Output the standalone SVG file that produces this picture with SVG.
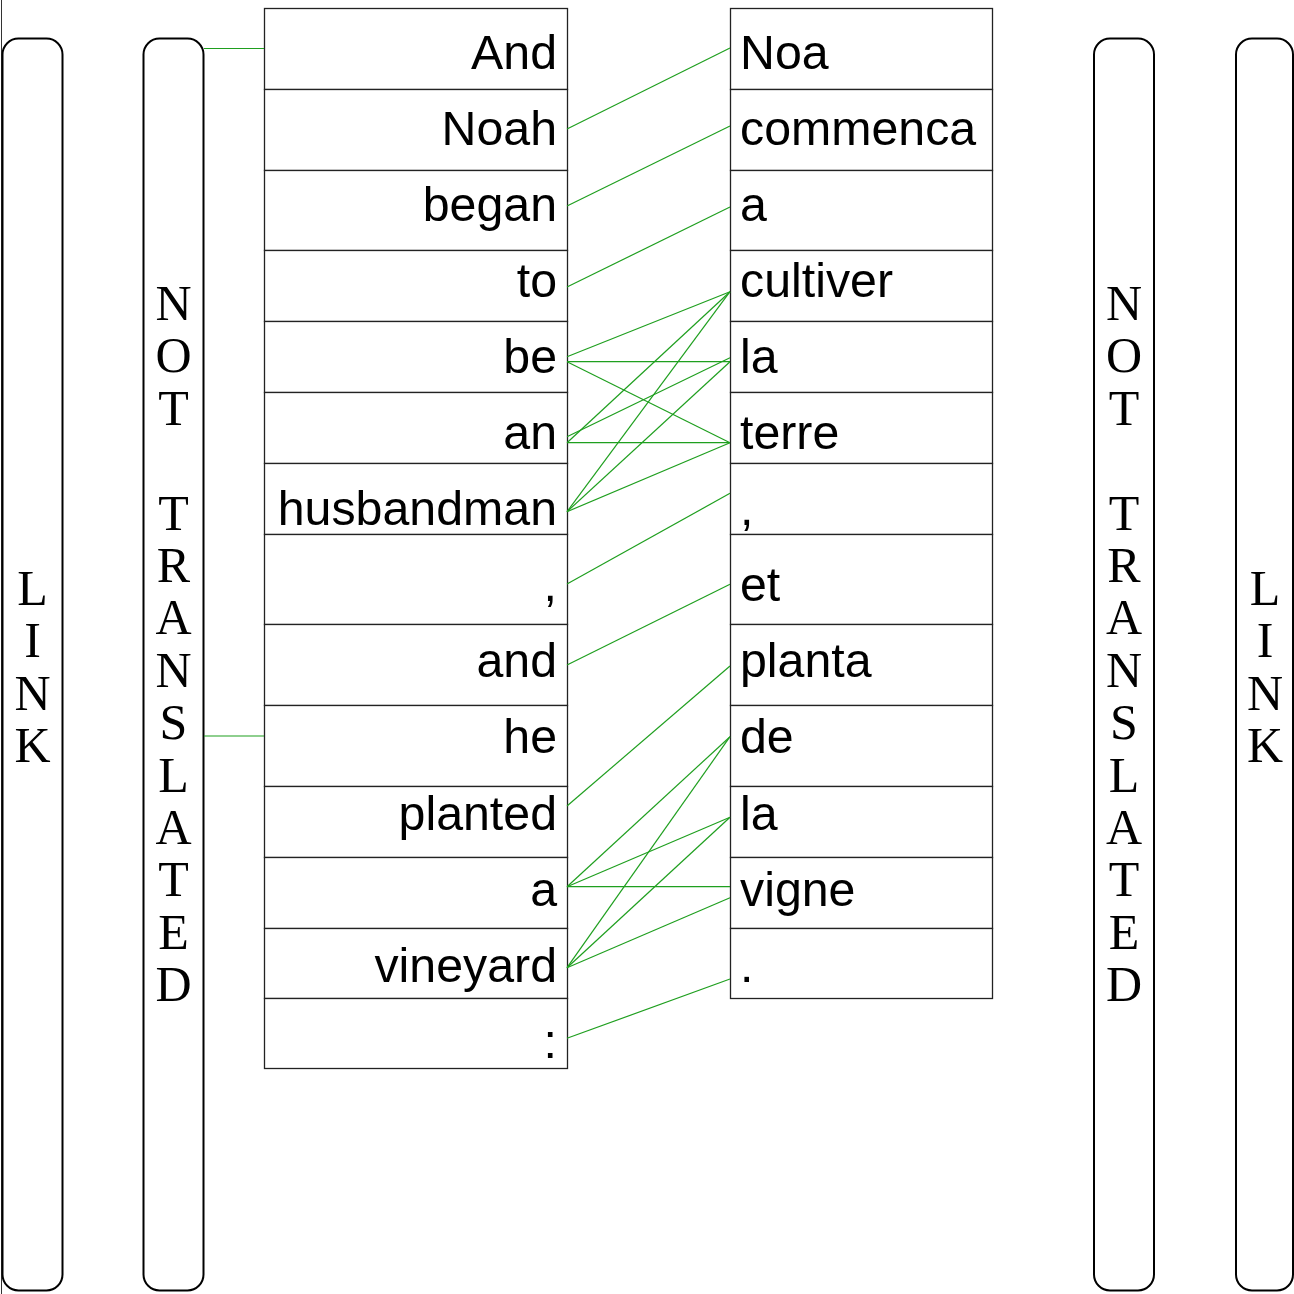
<svg xmlns="http://www.w3.org/2000/svg" width="1294" height="1294" viewBox="0 0 1294 1294">
<style>
.bg{fill:#fff}
.side{fill:#fff;stroke:#000;stroke-width:2}
.box{fill:#fff;stroke:#222;stroke-width:1.3}
.w{font-family:"Liberation Sans",Arial,sans-serif;font-size:48.3px;fill:#000}
.l{text-anchor:end}
.v{font-family:"Liberation Serif","Times New Roman",serif;font-size:50px;fill:#000;text-anchor:middle}
.c line{stroke:#1f9f1f;stroke-width:1.2}
</style>
<rect class="bg" x="0" y="0" width="1294" height="1294"/>
<line x1="1.5" y1="0" x2="1.5" y2="1294" stroke="#333" stroke-width="1"/>

<g id="link-left">
<rect class="side" x="2.5" y="38.5" width="60" height="1252" rx="16"/>
<text class="v" x="32.5" y="605">L</text>
<text class="v" x="32.5" y="657">I</text>
<text class="v" x="32.5" y="710">N</text>
<text class="v" x="32.5" y="762">K</text>
</g>
<g id="nt-left">
<rect class="side" x="143.5" y="38.5" width="60" height="1252" rx="16"/>
<text class="v" x="173.5" y="320">N</text>
<text class="v" x="173.5" y="372.4">O</text>
<text class="v" x="173.5" y="424.8">T</text>
<text class="v" x="173.5" y="529.6">T</text>
<text class="v" x="173.5" y="582">R</text>
<text class="v" x="173.5" y="634.4">A</text>
<text class="v" x="173.5" y="686.8">N</text>
<text class="v" x="173.5" y="739.2">S</text>
<text class="v" x="173.5" y="791.6">L</text>
<text class="v" x="173.5" y="844">A</text>
<text class="v" x="173.5" y="896.4">T</text>
<text class="v" x="173.5" y="948.8">E</text>
<text class="v" x="173.5" y="1001.2">D</text>
</g>
<g id="nt-right">
<rect class="side" x="1094" y="38.5" width="60" height="1252" rx="16"/>
<text class="v" x="1124" y="320">N</text>
<text class="v" x="1124" y="372.4">O</text>
<text class="v" x="1124" y="424.8">T</text>
<text class="v" x="1124" y="529.6">T</text>
<text class="v" x="1124" y="582">R</text>
<text class="v" x="1124" y="634.4">A</text>
<text class="v" x="1124" y="686.8">N</text>
<text class="v" x="1124" y="739.2">S</text>
<text class="v" x="1124" y="791.6">L</text>
<text class="v" x="1124" y="844">A</text>
<text class="v" x="1124" y="896.4">T</text>
<text class="v" x="1124" y="948.8">E</text>
<text class="v" x="1124" y="1001.2">D</text>
</g>
<g id="link-right">
<rect class="side" x="1236" y="38.5" width="57" height="1252" rx="16"/>
<text class="v" x="1265" y="605">L</text>
<text class="v" x="1265" y="657">I</text>
<text class="v" x="1265" y="710">N</text>
<text class="v" x="1265" y="762">K</text>
</g>

<g id="src">
<g id="s0"><rect class="box" x="264.5" y="8.5" width="303" height="81"/><text class="w l" x="557" y="68.5">And</text></g>
<g id="s1"><rect class="box" x="264.5" y="89.5" width="303" height="81"/><text class="w l" x="557" y="144.6">Noah</text></g>
<g id="s2"><rect class="box" x="264.5" y="170.5" width="303" height="80"/><text class="w l" x="557" y="220.7">began</text></g>
<g id="s3"><rect class="box" x="264.5" y="250.5" width="303" height="71"/><text class="w l" x="557" y="296.8">to</text></g>
<g id="s4"><rect class="box" x="264.5" y="321.5" width="303" height="71"/><text class="w l" x="557" y="372.9">be</text></g>
<g id="s5"><rect class="box" x="264.5" y="392.5" width="303" height="71"/><text class="w l" x="557" y="449">an</text></g>
<g id="s6"><rect class="box" x="264.5" y="463.5" width="303" height="71"/><text class="w l" x="557" y="525.1">husbandman</text></g>
<g id="s7"><rect class="box" x="264.5" y="534.5" width="303" height="90"/><text class="w l" x="557" y="601.2">,</text></g>
<g id="s8"><rect class="box" x="264.5" y="624.5" width="303" height="81"/><text class="w l" x="557" y="677.3">and</text></g>
<g id="s9"><rect class="box" x="264.5" y="705.5" width="303" height="81"/><text class="w l" x="557" y="753.4">he</text></g>
<g id="s10"><rect class="box" x="264.5" y="786.5" width="303" height="71"/><text class="w l" x="557" y="829.5">planted</text></g>
<g id="s11"><rect class="box" x="264.5" y="857.5" width="303" height="71"/><text class="w l" x="557" y="905.6">a</text></g>
<g id="s12"><rect class="box" x="264.5" y="928.5" width="303" height="70"/><text class="w l" x="557" y="981.7">vineyard</text></g>
<g id="s13"><rect class="box" x="264.5" y="998.5" width="303" height="70"/><text class="w l" x="557" y="1057.8">:</text></g>
</g>

<g id="tgt">
<g id="t0"><rect class="box" x="730.5" y="8.5" width="262" height="81"/><text class="w" x="740" y="68.5">Noa</text></g>
<g id="t1"><rect class="box" x="730.5" y="89.5" width="262" height="81"/><text class="w" x="740" y="144.6">commenca</text></g>
<g id="t2"><rect class="box" x="730.5" y="170.5" width="262" height="80"/><text class="w" x="740" y="220.7">a</text></g>
<g id="t3"><rect class="box" x="730.5" y="250.5" width="262" height="71"/><text class="w" x="740" y="296.8">cultiver</text></g>
<g id="t4"><rect class="box" x="730.5" y="321.5" width="262" height="71"/><text class="w" x="740" y="372.9">la</text></g>
<g id="t5"><rect class="box" x="730.5" y="392.5" width="262" height="71"/><text class="w" x="740" y="449">terre</text></g>
<g id="t6"><rect class="box" x="730.5" y="463.5" width="262" height="71"/><text class="w" x="740" y="525.1">,</text></g>
<g id="t7"><rect class="box" x="730.5" y="534.5" width="262" height="90"/><text class="w" x="740" y="601.2">et</text></g>
<g id="t8"><rect class="box" x="730.5" y="624.5" width="262" height="81"/><text class="w" x="740" y="677.3">planta</text></g>
<g id="t9"><rect class="box" x="730.5" y="705.5" width="262" height="81"/><text class="w" x="740" y="753.4">de</text></g>
<g id="t10"><rect class="box" x="730.5" y="786.5" width="262" height="71"/><text class="w" x="740" y="829.5">la</text></g>
<g id="t11"><rect class="box" x="730.5" y="857.5" width="262" height="71"/><text class="w" x="740" y="905.6">vigne</text></g>
<g id="t12"><rect class="box" x="730.5" y="928.5" width="262" height="70"/><text class="w" x="740" y="981.7">.</text></g>
</g>

<g id="connectors" class="c">
<line x1="204" y1="48.5" x2="264" y2="48.5"/>
<line x1="204" y1="736" x2="264" y2="736"/>
<line x1="567" y1="129" x2="730" y2="48"/>
<line x1="567" y1="206" x2="730" y2="126"/>
<line x1="567" y1="287" x2="730" y2="207"/>
<line x1="567" y1="356.7" x2="730" y2="291.7"/>
<line x1="567" y1="361.7" x2="730" y2="361.7"/>
<line x1="567" y1="361.7" x2="730" y2="442.7"/>
<line x1="567" y1="442.7" x2="730" y2="291.7"/>
<line x1="567" y1="436.7" x2="730" y2="357.7"/>
<line x1="567" y1="442.7" x2="730" y2="442.7"/>
<line x1="567" y1="511.7" x2="730" y2="291.7"/>
<line x1="567" y1="511.7" x2="730" y2="361.7"/>
<line x1="567" y1="511.7" x2="730" y2="442.7"/>
<line x1="567" y1="584" x2="730" y2="493.3"/>
<line x1="567" y1="665" x2="730" y2="584.3"/>
<line x1="567" y1="806" x2="730" y2="666"/>
<line x1="567" y1="886.7" x2="730" y2="736.7"/>
<line x1="567" y1="886.7" x2="730" y2="817.3"/>
<line x1="567" y1="886.7" x2="730" y2="886.7"/>
<line x1="567" y1="967.7" x2="730" y2="736.7"/>
<line x1="567" y1="967.7" x2="730" y2="817.3"/>
<line x1="567" y1="967.7" x2="730" y2="897.7"/>
<line x1="567" y1="1038.3" x2="730" y2="979"/>
</g>
</svg>
